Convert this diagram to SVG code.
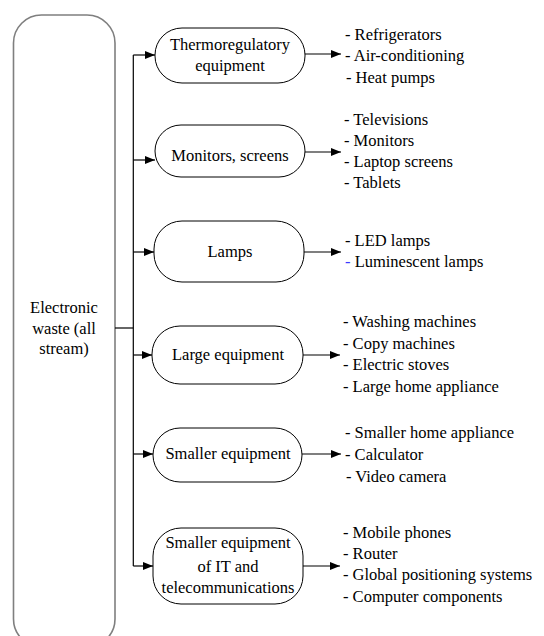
<svg xmlns="http://www.w3.org/2000/svg" width="544" height="636" viewBox="0 0 544 636">
<style>
text{font-family:'Liberation Serif','Tinos','DejaVu Serif',serif;font-size:16.5px;fill:#000}
.c{text-anchor:middle}
.node{fill:#fff;stroke:#000;stroke-width:1}
.main{fill:#fff;stroke:#7f7f7f;stroke-width:1.6}
.ln{fill:none;stroke:#000;stroke-width:1.2}
</style>
<defs>
<marker id="ah" viewBox="0 0 10 8" refX="10" refY="4" markerWidth="10" markerHeight="8" markerUnits="userSpaceOnUse" orient="auto">
<path d="M0,0 L10,4 L0,8 Z" fill="#000"/>
</marker>
</defs>
<g id="main">
<rect class="main" x="13.5" y="15" width="101.5" height="632" rx="28" ry="28"/>
<text class="c" x="64" y="313">Electronic</text>
<text class="c" x="64" y="334">waste (all</text>
<text class="c" x="64" y="354">stream)</text>
</g>
<g id="connectors">
<path class="ln" d="M115,328 H133.3" stroke-width="2"/>
<path class="ln" d="M133.3,55 V566"/>
<path class="ln" d="M133.3,55 H155" marker-end="url(#ah)"/>
<path class="ln" d="M133.3,160 H155" marker-end="url(#ah)"/>
<path class="ln" d="M133.3,252 H154" marker-end="url(#ah)"/>
<path class="ln" d="M133.3,355 H152" marker-end="url(#ah)"/>
<path class="ln" d="M133.3,454 H153" marker-end="url(#ah)"/>
<path class="ln" d="M133.3,566 H153" marker-end="url(#ah)"/>
<path class="ln" d="M305,54 H341" marker-end="url(#ah)"/>
<path class="ln" d="M305,152 H341" marker-end="url(#ah)"/>
<path class="ln" d="M304,252 H341" marker-end="url(#ah)"/>
<path class="ln" d="M303,355 H340" marker-end="url(#ah)"/>
<path class="ln" d="M302,454 H341" marker-end="url(#ah)"/>
<path class="ln" d="M303,566 H340" marker-end="url(#ah)"/>
</g>
<g id="thermo">
<rect class="node" x="155" y="28" width="150" height="55" rx="27" ry="27"/>
<text class="c" x="230" y="50">Thermoregulatory</text>
<text class="c" x="230" y="71">equipment</text>
</g>
<g id="monitors">
<rect class="node" x="155" y="125" width="150" height="52" rx="26" ry="26"/>
<text class="c" x="230" y="161">Monitors, screens</text>
</g>
<g id="lamps">
<rect class="node" x="154" y="221" width="150" height="61" rx="28" ry="28"/>
<text class="c" x="230" y="257">Lamps</text>
</g>
<g id="large">
<rect class="node" x="152" y="326" width="151" height="58" rx="28" ry="28"/>
<text class="c" x="228" y="360">Large equipment</text>
</g>
<g id="smaller">
<rect class="node" x="153" y="428" width="149" height="54" rx="27" ry="27"/>
<text class="c" x="228" y="459">Smaller equipment</text>
</g>
<g id="it">
<rect class="node" x="153" y="528" width="150" height="76" rx="28" ry="28"/>
<text class="c" x="228" y="548">Smaller equipment</text>
<text class="c" x="228" y="572">of IT and</text>
<text class="c" x="228" y="593">telecommunications</text>
</g>
<g id="list-thermo">
<text x="345" y="40">- Refrigerators</text>
<text x="345" y="61">- Air-conditioning</text>
<text x="346" y="83">- Heat pumps</text>
</g>
<g id="list-monitors">
<text x="344" y="125">- Televisions</text>
<text x="344" y="146">- Monitors</text>
<text x="344" y="167">- Laptop screens</text>
<text x="344" y="188">- Tablets</text>
</g>
<g id="list-lamps">
<text x="345" y="246">- LED lamps</text>
<text x="345" y="267"><tspan fill="#3a3aff">-</tspan> Luminescent lamps</text>
</g>
<g id="list-large">
<text x="343" y="327">- Washing machines</text>
<text x="343" y="349">- Copy machines</text>
<text x="343" y="370">- Electric stoves</text>
<text x="343" y="392">- Large home appliance</text>
</g>
<g id="list-smaller">
<text x="345" y="438">- Smaller home appliance</text>
<text x="345" y="460">- Calculator</text>
<text x="346" y="482">- Video camera</text>
</g>
<g id="list-it">
<text x="343" y="538">- Mobile phones</text>
<text x="343" y="559">- Router</text>
<text x="343" y="580">- Global positioning systems</text>
<text x="343" y="602">- Computer components</text>
</g>
</svg>
